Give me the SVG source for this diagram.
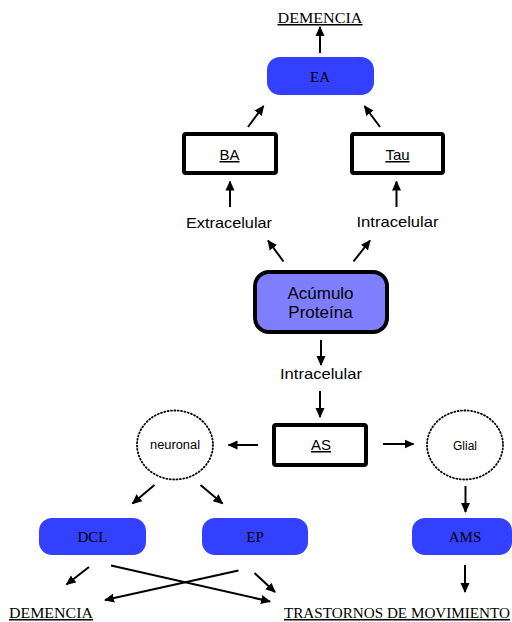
<svg xmlns="http://www.w3.org/2000/svg" width="512" height="622" viewBox="0 0 512 622">
<defs>
<marker id="ah" markerWidth="10" markerHeight="10" refX="9" refY="5" orient="auto" markerUnits="userSpaceOnUse">
<path d="M0,0.5 L10,5 L0,9.5 Z" fill="#000"/>
</marker>
<style>
.con line{stroke:#000;stroke-width:2;marker-end:url(#ah)}
.blue{fill:#3340FF}
.thick{fill:#fff;stroke:#000;stroke-width:4}
.serif{font-family:"Liberation Serif","Times New Roman",serif;fill:#000}
.sans{font-family:"Liberation Sans",Arial,sans-serif;fill:#000}
.ul{text-decoration:underline}
.dot{fill:none;stroke:#000;stroke-width:1.8;stroke-dasharray:1 2.4;stroke-linecap:round}
</style>
</defs>
<rect width="512" height="622" fill="#fff"/>

<g id="demencia-top"><text class="serif ul" x="320" y="23" font-size="15" text-anchor="middle" textLength="85" lengthAdjust="spacingAndGlyphs">DEMENCIA</text></g>
<g id="ea"><rect class="blue" x="267" y="57" width="107" height="38" rx="13"/><text class="serif" x="320" y="82" font-size="15" text-anchor="middle">EA</text></g>
<g id="ba"><rect class="thick" x="184" y="134" width="92" height="39" rx="2"/><text class="sans ul" x="229.5" y="160" font-size="15" text-anchor="middle">BA</text></g>
<g id="tau"><rect class="thick" x="352" y="134" width="91" height="39" rx="2"/><text class="sans ul" x="397.5" y="160" font-size="15" text-anchor="middle">Tau</text></g>
<g id="extracelular"><text class="sans" x="229" y="228" font-size="15" text-anchor="middle" textLength="86" lengthAdjust="spacingAndGlyphs">Extracelular</text></g>
<g id="intracelular-r"><text class="sans" x="397.5" y="227" font-size="15" text-anchor="middle" textLength="82" lengthAdjust="spacingAndGlyphs">Intracelular</text></g>
<g id="acumulo"><rect x="255" y="272" width="132" height="60" rx="14" fill="#7E7EFF" stroke="#000" stroke-width="4"/>
<text class="sans" x="320.5" y="299" font-size="17" text-anchor="middle">Acúmulo</text>
<text class="sans" x="320.5" y="317.5" font-size="17" text-anchor="middle">Proteína</text></g>
<g id="intracelular-b"><text class="sans" x="321" y="379" font-size="15" text-anchor="middle" textLength="82" lengthAdjust="spacingAndGlyphs">Intracelular</text></g>
<g id="as"><rect class="thick" x="274" y="425" width="92" height="40" rx="2"/><text class="sans ul" x="321" y="450" font-size="15" text-anchor="middle">AS</text></g>
<g id="neuronal"><ellipse class="dot" cx="175" cy="445" rx="38" ry="34.5"/><text class="sans" x="175" y="449" font-size="12" text-anchor="middle" textLength="50" lengthAdjust="spacingAndGlyphs">neuronal</text></g>
<g id="glial"><ellipse class="dot" cx="465" cy="445" rx="38" ry="34.5"/><text class="sans" x="465" y="449.5" font-size="12" text-anchor="middle">Glial</text></g>
<g id="dcl"><rect class="blue" x="39" y="518" width="107" height="37" rx="13"/><text class="serif" x="92.5" y="541.5" font-size="15" text-anchor="middle">DCL</text></g>
<g id="ep"><rect class="blue" x="202" y="518" width="106" height="37" rx="13"/><text class="serif" x="255" y="541.5" font-size="15" text-anchor="middle">EP</text></g>
<g id="ams"><rect class="blue" x="412" y="518" width="100" height="37" rx="13"/><text class="serif" x="465" y="541.5" font-size="15" text-anchor="middle">AMS</text></g>
<g id="demencia-bottom"><text class="serif ul" x="9" y="618" font-size="15" textLength="84" lengthAdjust="spacingAndGlyphs">DEMENCIA</text></g>
<g id="trastornos"><text class="serif ul" x="284" y="618" font-size="15" textLength="226" lengthAdjust="spacingAndGlyphs">TRASTORNOS DE MOVIMIENTO</text></g>

<g id="connectors" class="con">
<line x1="320" y1="53" x2="320" y2="27"/>
<line x1="248" y1="127" x2="263.5" y2="106"/>
<line x1="380" y1="127" x2="364.5" y2="106"/>
<line x1="230" y1="207" x2="230" y2="181.5"/>
<line x1="396.5" y1="207" x2="396.5" y2="181.5"/>
<line x1="283.5" y1="261.5" x2="268" y2="240.5"/>
<line x1="353.5" y1="261.5" x2="370" y2="240.5"/>
<line x1="321" y1="340" x2="321" y2="365"/>
<line x1="320" y1="391" x2="320" y2="417"/>
<line x1="258" y1="445" x2="228.5" y2="445"/>
<line x1="383" y1="444" x2="413.5" y2="444"/>
<line x1="154.5" y1="485" x2="132.5" y2="503.5"/>
<line x1="200.5" y1="485" x2="222.5" y2="503.5"/>
<line x1="465.5" y1="486" x2="465.5" y2="512"/>
<line x1="465" y1="565" x2="465" y2="592"/>
<line x1="89" y1="567" x2="66.5" y2="584.5"/>
<line x1="111" y1="565.5" x2="270" y2="601.5"/>
<line x1="238.5" y1="570.5" x2="105" y2="600"/>
<line x1="254.5" y1="573" x2="275" y2="592"/>
</g>
</svg>
